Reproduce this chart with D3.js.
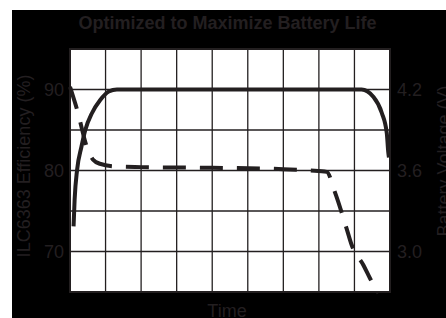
<!DOCTYPE html>
<html>
<head>
<meta charset="utf-8">
<script src="https://cdn.jsdelivr.net/npm/d3@7"></script>
<style>
  html, body { margin: 0; padding: 0; background: #fff; }
  svg { display: block; }
</style>
</head>
<body>
<svg id="chart" width="446" height="318"></svg>
<script>
// ---- data ----
const title = "Optimized to Maximize Battery Life";
const xLabel = "Time";
const yLeftLabel = "ILC6363 Efficiency (%)";
const yRightLabel = "Battery Voltage (V)";

const timeDomain = [0, 9];
const timeGrid = [0, 1, 2, 3, 4, 5, 6, 7, 8, 9];

const effDomain = [65, 95];
const effGrid = [65, 70, 75, 80, 85, 90, 95];
const effTicks = [70, 80, 90];

const voltDomain = [2.7, 4.5];
const voltTicks = [3.0, 3.6, 4.2];
const voltTickLabels = ["3.0", "3.6", "4.2"];

const effTime = [0.10, 0.13, 0.20, 0.32, 0.43, 0.62, 0.85, 1.09, 1.32, 2, 4, 6, 8.2, 8.53, 8.77, 8.91, 8.95, 8.97];
const effValues = [73.1, 76.4, 80.1, 82.9, 85.0, 87.1, 88.7, 89.75, 90, 90, 90, 90, 90, 89.1, 87.1, 84.6, 82.3, 81.6];

const voltTime = [0, 0.2, 0.48, 0.65, 0.84, 1.27, 2, 4, 6, 6.75, 7.22, 7.45, 7.78, 7.92, 8.25, 8.44, 8.67];
const voltValues = [4.22, 4.05, 3.77, 3.68, 3.65, 3.63, 3.625, 3.62, 3.61, 3.60, 3.59, 3.44, 3.17, 3.05, 2.90, 2.80, 2.69];

// ---- layout ----
const W = 446, H = 318;
const plot = { left: 70, right: 390, top: 49, bottom: 292 };
const ink = "#231f20";
const font = "'Liberation Sans', Arial, Helvetica, sans-serif";

const svg = d3.select("#chart");

// background frame
svg.append("rect").attr("x", 12).attr("y", 10).attr("width", W - 12).attr("height", H - 10).attr("fill", "#000");
svg.append("rect").attr("x", plot.left).attr("y", plot.top)
  .attr("width", plot.right - plot.left).attr("height", plot.bottom - plot.top).attr("fill", "#fff");

const x = d3.scaleLinear().domain(timeDomain).range([plot.left, plot.right]);
const yE = d3.scaleLinear().domain(effDomain).range([plot.bottom, plot.top]);
const yV = d3.scaleLinear().domain(voltDomain).range([plot.bottom, plot.top]);

// grid
const g = svg.append("g");
g.selectAll("line.v").data(timeGrid).join("line")
  .attr("x1", d => x(d)).attr("x2", d => x(d))
  .attr("y1", plot.top).attr("y2", plot.bottom)
  .attr("stroke", ink).attr("stroke-width", 1.3);
g.selectAll("line.h").data(effGrid).join("line")
  .attr("y1", d => yE(d)).attr("y2", d => yE(d))
  .attr("x1", plot.left).attr("x2", plot.right)
  .attr("stroke", ink).attr("stroke-width", 1.3);
svg.append("rect").attr("x", plot.left).attr("y", plot.top)
  .attr("width", plot.right - plot.left).attr("height", plot.bottom - plot.top)
  .attr("fill", "none").attr("stroke", ink).attr("stroke-width", 2);

// axes (tick labels only)
const leftAxis = d3.axisLeft(yE).tickValues(effTicks).tickSize(0).tickPadding(6);
svg.append("g").attr("transform", `translate(${plot.left},0)`).call(leftAxis)
  .call(s => s.select(".domain").remove())
  .selectAll("text").attr("fill", ink).attr("font-size", 18).attr("font-family", font);

const rightAxis = d3.axisRight(yV).tickValues(voltTicks).tickSize(0).tickPadding(7)
  .tickFormat((d, i) => voltTickLabels[i]);
svg.append("g").attr("transform", `translate(${plot.right},0)`).call(rightAxis)
  .call(s => s.select(".domain").remove())
  .selectAll("text").attr("fill", ink).attr("font-size", 18).attr("font-family", font);

// lines
const effLine = d3.line().x(d => x(d[0])).y(d => yE(d[1])).curve(d3.curveMonotoneX);
const voltLine = d3.line().x(d => x(d[0])).y(d => yV(d[1])).curve(d3.curveMonotoneX);

svg.append("path").datum(d3.zip(voltTime, voltValues))
  .attr("d", voltLine).attr("fill", "none").attr("stroke", ink)
  .attr("stroke-width", 4).attr("stroke-dasharray", "23,14");
svg.append("path").datum(d3.zip(effTime, effValues))
  .attr("d", effLine).attr("fill", "none").attr("stroke", ink)
  .attr("stroke-width", 4);

// texts
svg.append("text").attr("x", 227.5).attr("y", 28.5).attr("text-anchor", "middle")
  .attr("font-family", font).attr("font-weight", "bold").attr("font-size", 18)
  .attr("fill", ink).text(title);
svg.append("text").attr("x", 227).attr("y", 316.5).attr("text-anchor", "middle")
  .attr("font-family", font).attr("font-size", 18).attr("fill", ink).text(xLabel);
svg.append("text").attr("transform", "translate(30,166) rotate(-90)").attr("text-anchor", "middle")
  .attr("font-family", font).attr("font-size", 18).attr("fill", ink).text(yLeftLabel);
svg.append("text").attr("transform", "translate(450,161) rotate(-90)").attr("text-anchor", "middle")
  .attr("font-family", font).attr("font-size", 18).attr("fill", ink).text(yRightLabel);
</script>
</body>
</html>
